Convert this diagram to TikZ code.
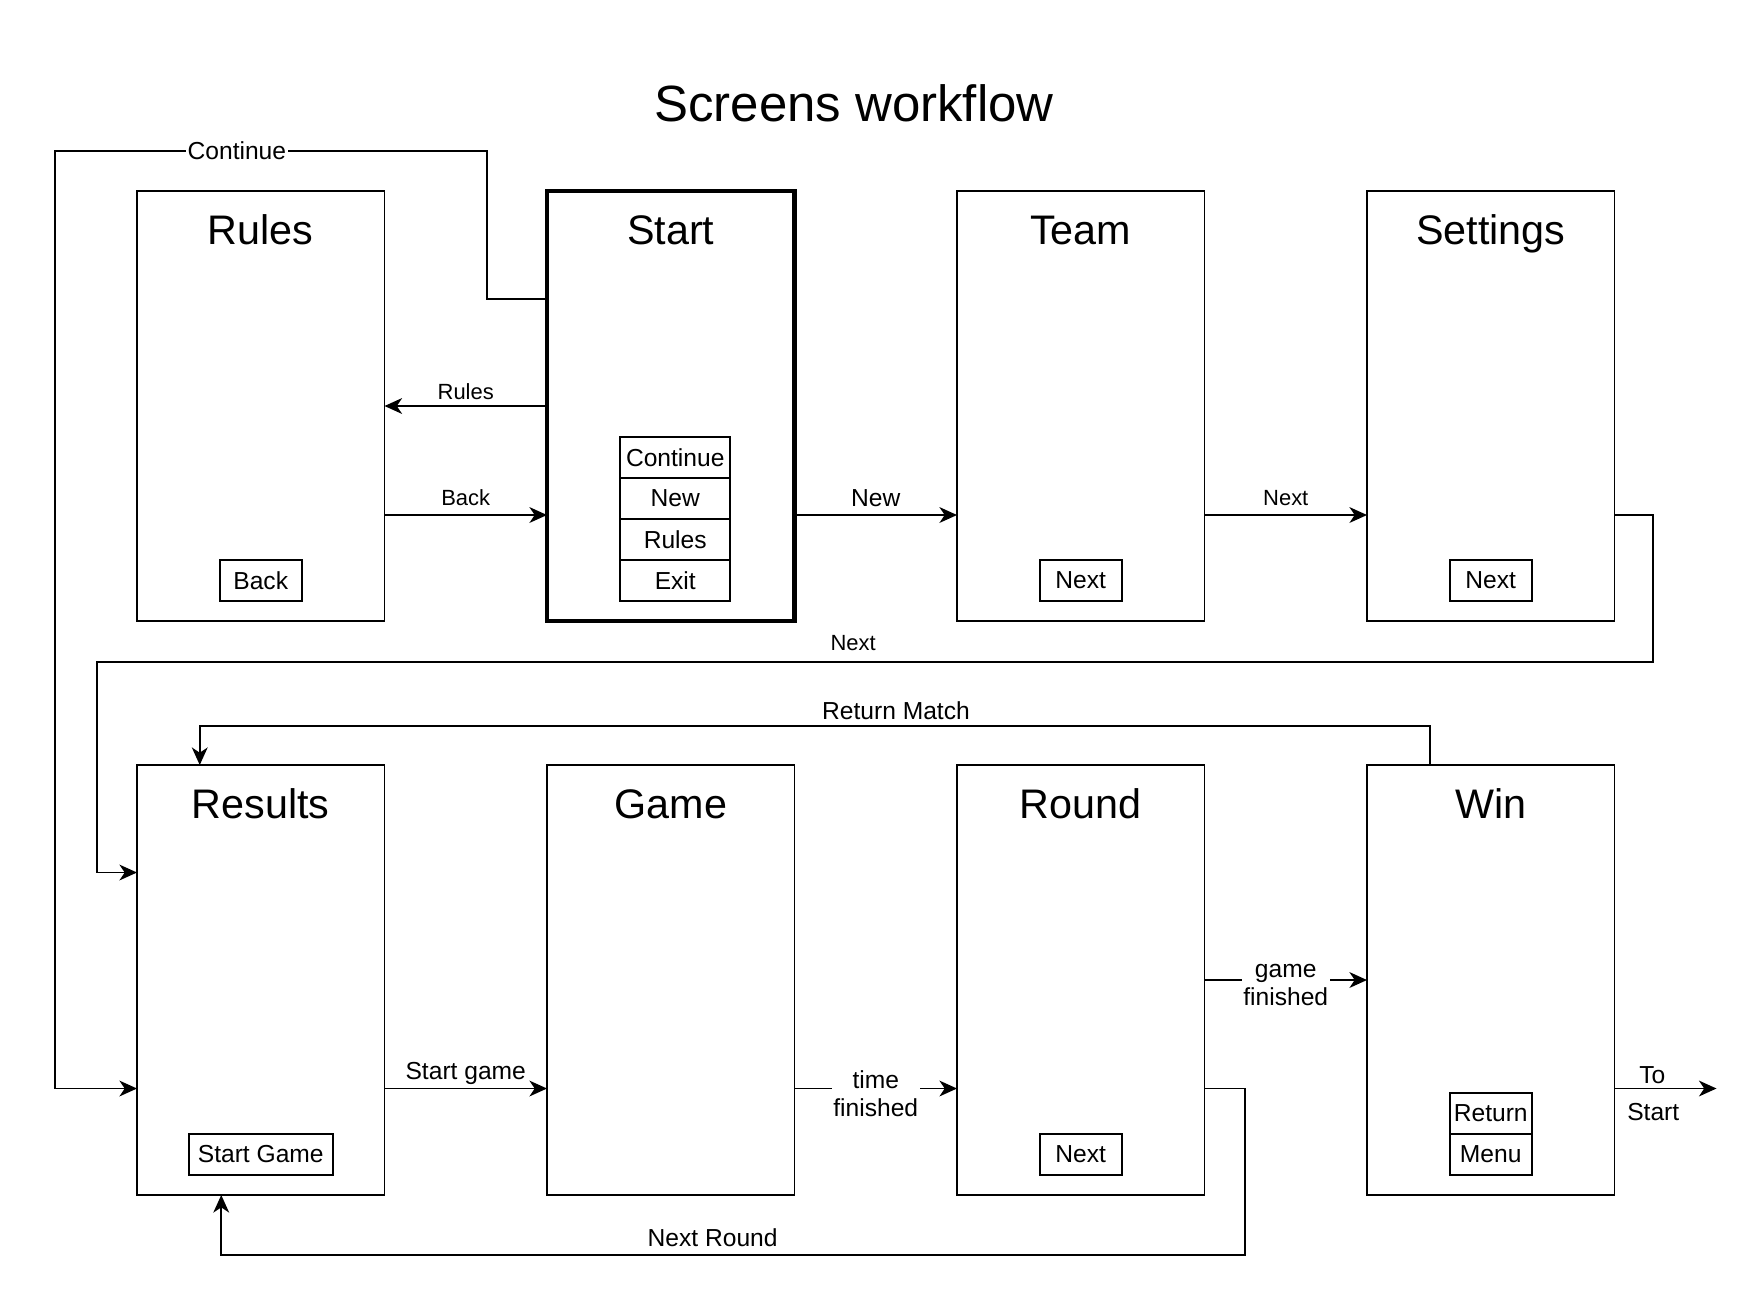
\documentclass[tikz,border=0pt]{standalone}
\usepackage{fontspec}
\setmainfont{Liberation Sans}
\usetikzlibrary{positioning, arrows.meta}

\begin{document}
\begin{tikzpicture}[node distance=3.25cm,
			screen/.style={draw, line width=1pt, outer sep=0pt, minimum width=4.95cm, minimum height=8.6cm, inner sep=0pt,
				label={[font=\fontsize{23.5}{27}\selectfont, anchor=base, yshift=-1.06cm]north:#1}},
			btn/.style={draw, line width=1pt, inner sep=0pt, outer sep=0pt, minimum width=1.64cm, minimum height=0.82cm, font=\fontsize{14}{16}\selectfont},
			lbl/.style={font=\fontsize{14}{16}\selectfont, inner sep=1pt, align=center},
			small/.style={font=\fontsize{12.5}{14}\selectfont, inner sep=1pt},
			flow/.style={line width=1pt, -{Stealth[length=10pt, width=9pt, inset=3pt]}}]
	\useasboundingbox (0,0) rectangle (35.24,-26.08);
	\node[font=\fontsize{29}{34}\selectfont] (title) at (17.08,-2.06) {Screens workflow};
	% top row of screens
	\node[screen=Rules, anchor=north west] (rules) at (2.74,-3.82) {};
	\node[screen=Start, line width=2.6pt, right=of rules] (start) {};
	\node[screen=Team, right=of start] (team) {};
	\node[screen=Settings, right=of team] (settings) {};
	% bottom row of screens
	\node[screen=Results, below=2.88cm of rules] (results) {};
	\node[screen=Game, right=of results] (game) {};
	\node[screen=Round, right=of game] (round) {};
	\node[screen=Win, right=of round] (win) {};
	% buttons
	\node[btn, above=0.4cm of rules.south] (back) {Back};
	\node[btn, minimum width=2.2cm, above=0.4cm of start.south, xshift=0.09cm] (exit) {Exit};
	\node[btn, minimum width=2.2cm, above=0cm of exit] (mrules) {Rules};
	\node[btn, minimum width=2.2cm, above=0cm of mrules] (mnew) {New};
	\node[btn, minimum width=2.2cm, above=0cm of mnew] (mcont) {Continue};
	\node[btn, above=0.4cm of team.south] (teamnext) {Next};
	\node[btn, above=0.4cm of settings.south] (setnext) {Next};
	\node[btn, minimum width=2.88cm, above=0.4cm of results.south] (startgame) {Start Game};
	\node[btn, above=0.4cm of round.south] (roundnext) {Next};
	\node[btn, above=0.4cm of win.south] (menu) {Menu};
	\node[btn, above=0cm of menu] (ret) {Return};
	\coordinate (tostart) at ([xshift=2.04cm, yshift=-2.17cm]win.east);
	% connectors
	\draw[flow] ([yshift=2.14cm]start.west) -| (9.74,-3.02) -- node[lbl, fill=white, pos=0.579] {Continue} (1.1,-3.02) |- ([yshift=-2.17cm]results.west);
	\draw[flow] (start) -- node[small, above=2pt] {Rules} (rules);
	\draw[flow] ([yshift=-2.18cm]rules.east) -- node[small, above=4pt] {Back} ([yshift=-2.18cm]start.west);
	\draw[flow] ([yshift=-2.18cm]start.east) -- node[lbl, above=3pt] {New} ([yshift=-2.18cm]team.west);
	\draw[flow] ([yshift=-2.18cm]team.east) -- node[small, above=4pt] {Next} ([yshift=-2.18cm]settings.west);
	\draw[flow] ([yshift=-2.18cm]settings.east) -| (33.06,-13.24) -- node[small, above=5pt, pos=0.514] {Next} (1.94,-13.24) |- ([yshift=2.15cm]results.west);
	\draw[flow] ([xshift=-1.22cm]win.north) |- node[lbl, above=2pt, pos=0.717] {Return Match} ([xshift=-1.22cm, yshift=0.78cm]results.north) -- ([xshift=-1.22cm]results.north);
	\draw[flow] ([yshift=-2.17cm]results.east) -- node[lbl, above=1pt] {Start game} ([yshift=-2.17cm]game.west);
	\draw[flow] ([yshift=-2.17cm]game.east) -- node[lbl, fill=white, yshift=-3pt] {time\\finished} ([yshift=-2.17cm]round.west);
	\draw[flow] (round) -- node[lbl, fill=white, yshift=-3pt] {game\\finished} (win);
	\draw[flow] ([yshift=-2.17cm]round.east) -| (24.9,-25.1) -| node[lbl, above=3pt, pos=0.26] {Next Round} ([xshift=-0.79cm]results.south);
	\draw[flow] ([yshift=-2.17cm]win.east) -- node[lbl, above=1pt, pos=0.37] {To} node[lbl, below=7pt, pos=0.38] {Start} (tostart);
\end{tikzpicture}
\end{document}
